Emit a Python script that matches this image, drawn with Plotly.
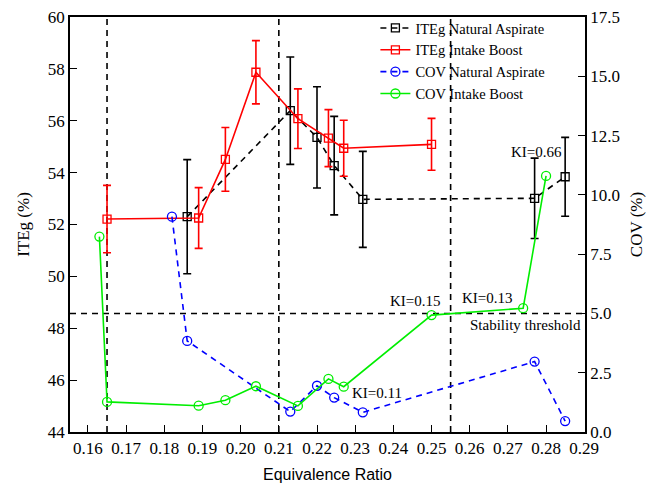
import plotly.graph_objects as go

# ITEg Natural Aspirate
na_x = [0.186, 0.213, 0.220, 0.2245, 0.232, 0.277, 0.285]
na_iteg = [52.3, 56.39, 55.36, 54.27, 52.97, 53.01, 53.84]
na_err = [2.2, 2.07, 1.95, 1.9, 1.85, 1.55, 1.52]

# ITEg Intake Boost
ib_x = [0.165, 0.189, 0.196, 0.204, 0.215, 0.223, 0.227, 0.250]
ib_iteg = [52.21, 52.25, 54.51, 57.87, 56.08, 55.33, 54.94, 55.09]
ib_err = [1.3, 1.17, 1.23, 1.22, 1.15, 1.1, 1.08, 1.0]

# COV Natural Aspirate
cna_x = [0.182, 0.186, 0.213, 0.220, 0.2245, 0.232, 0.277, 0.285]
cna_cov = [9.08, 3.84, 0.86, 1.95, 1.45, 0.83, 2.97, 0.46]

# COV Intake Boost
cib_x = [0.163, 0.165, 0.189, 0.196, 0.204, 0.215, 0.223, 0.227, 0.250, 0.274, 0.280]
cib_cov = [8.24, 1.27, 1.11, 1.34, 1.93, 1.10, 2.24, 1.91, 4.93, 5.22, 10.8]

# reference lines
vlines = [0.165, 0.21, 0.255]
threshold = 5.0

# annotations: (text, x, cov)
ki_labels = [("KI=0.66", 0.2775, 11.8), ("KI=0.15", 0.2459, 5.52),
             ("KI=0.13", 0.2647, 5.65), ("KI=0.11", 0.2358, 1.64)]

SERIF = "Liberation Serif"
DASH = "6px,5px"

fig = go.Figure()

fig.add_trace(go.Scatter(
    x=na_x, y=na_iteg, name="ITEg Natural Aspirate", mode="lines+markers",
    line=dict(color="black", width=1.6, dash=DASH),
    marker=dict(symbol="square-open", size=8, color="black", line=dict(width=1.3)),
    error_y=dict(type="data", array=na_err, color="black", thickness=1.6, width=4),
))
fig.add_trace(go.Scatter(
    x=ib_x, y=ib_iteg, name="ITEg Intake Boost", mode="lines+markers",
    line=dict(color="#ff0000", width=1.6),
    marker=dict(symbol="square-open", size=8, color="#ff0000", line=dict(width=1.3)),
    error_y=dict(type="data", array=ib_err, color="#ff0000", thickness=1.6, width=4),
))
fig.add_trace(go.Scatter(
    x=cna_x, y=cna_cov, name="COV Natural Aspirate", mode="lines+markers", yaxis="y2",
    line=dict(color="#0000ff", width=1.6, dash=DASH),
    marker=dict(symbol="circle-open", size=9, color="#0000ff", line=dict(width=1.3)),
))
fig.add_trace(go.Scatter(
    x=cib_x, y=cib_cov, name="COV Intake Boost", mode="lines+markers", yaxis="y2",
    line=dict(color="#00ee00", width=1.6),
    marker=dict(symbol="circle-open", size=9, color="#00ee00", line=dict(width=1.3)),
))

shapes = []
for vx in vlines:
    shapes.append(dict(type="line", xref="x", yref="paper", x0=vx, x1=vx, y0=0, y1=1,
                       line=dict(color="black", width=1.6, dash=DASH), layer="below"))
shapes.append(dict(type="line", xref="paper", yref="y2", x0=0, x1=1, y0=threshold, y1=threshold,
                   line=dict(color="black", width=1.6, dash=DASH), layer="below"))

annotations = []
for txt, ax, ay in ki_labels:
    annotations.append(dict(text=txt, x=ax, y=ay, xref="x", yref="y2", showarrow=False,
                            font=dict(family=SERIF, size=15, color="black")))
annotations.append(dict(text="Stability threshold", x=0.2745, y=4.51, xref="x", yref="y2",
                        showarrow=False, font=dict(family=SERIF, size=15, color="black")))

fig.update_layout(
    width=646, height=490,
    margin=dict(l=70, r=61, t=17, b=58, autoexpand=False),
    paper_bgcolor="white", plot_bgcolor="white",
    font=dict(family=SERIF, size=17, color="black"),
    showlegend=True,
    legend=dict(x=0.593, y=1.012, xanchor="left", yanchor="top", bgcolor="rgba(0,0,0,0)",
                font=dict(family=SERIF, size=14.5), tracegroupgap=0, itemwidth=30),
    xaxis=dict(range=[0.1553, 0.2902], dtick=0.01, tick0=0.16, tickformat=".2f",
               showgrid=False, zeroline=False, showline=True, linecolor="black", linewidth=1.6,
               mirror=True, ticks="inside", ticklen=7, tickwidth=1.4, tickcolor="black",
               automargin=False,
               title=dict(text="Equivalence Ratio", font=dict(family="Liberation Sans", size=16), standoff=12)),
    yaxis=dict(range=[44, 60], dtick=2, showgrid=False, zeroline=False, showline=True,
               linecolor="black", linewidth=1.6, ticks="inside", ticklen=7, tickwidth=1.4,
               tickcolor="black", automargin=False,
               title=dict(text="ITEg (%)", font=dict(family=SERIF, size=17), standoff=14)),
    yaxis2=dict(range=[0, 17.5], dtick=2.5, tickformat=".1f", overlaying="y", side="right",
                showgrid=False, zeroline=False, showline=True, linecolor="black", linewidth=1.6,
                ticks="inside", ticklen=7, tickwidth=1.4, tickcolor="black", automargin=False,
                title=dict(text="COV (%)", font=dict(family=SERIF, size=17), standoff=20)),
    shapes=shapes, annotations=annotations,
)

fig.write_html("out.html")
